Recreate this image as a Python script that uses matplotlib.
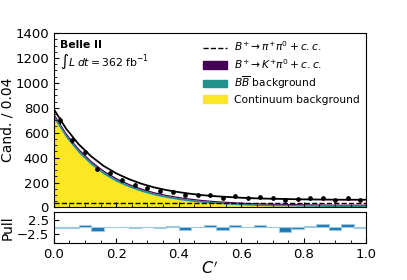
import numpy as np
import matplotlib
matplotlib.use('Agg')
import matplotlib.pyplot as plt
from matplotlib.ticker import AutoMinorLocator, MultipleLocator
from matplotlib.patches import Patch
from matplotlib.lines import Line2D

# bin centres of the C' histogram (width 0.04)
bin_centres = [0.02, 0.06, 0.10, 0.14, 0.18, 0.22, 0.26, 0.30, 0.34, 0.38,
               0.42, 0.46, 0.50, 0.54, 0.58, 0.62, 0.66, 0.70, 0.74, 0.78,
               0.82, 0.86, 0.90, 0.94, 0.98]
counts = [700, 538, 444, 310, 275, 224, 181, 155, 133, 128,
          101, 101, 98, 75, 90, 79, 82, 74, 58, 66,
          74, 79, 58, 74, 58]
pulls = [-0.2, -0.2, 0.9, -1.3, 0.3, 0.2, -0.2, 0.0, -0.2, 0.4,
         -0.9, 0.0, 0.7, -0.9, 0.7, 0.2, 0.7, 0.0, -1.8, -0.4,
         0.4, 1.1, -0.9, 1.1, -0.3]

# fit components read at C' = 0, 0.04, ..., 1.0
curve_x = [0.00, 0.04, 0.08, 0.12, 0.16, 0.20, 0.24, 0.28, 0.32, 0.36,
           0.40, 0.44, 0.48, 0.52, 0.56, 0.60, 0.64, 0.68, 0.72, 0.76,
           0.80, 0.84, 0.88, 0.92, 0.96, 1.00]
continuum = [715, 559, 437, 342, 267, 209, 165, 129, 101, 80,
             63, 50, 40, 32, 27, 21, 17, 14, 13, 12,
             10, 9, 8, 7, 7, 7]
bbbar = [24, 22, 21, 20, 19, 18, 17, 16, 16, 15,
         15, 14, 14, 14, 13, 13, 13, 13, 13, 12,
         12, 12, 12, 12, 12, 12]
kpi0 = [16, 15, 14, 13, 12, 12, 11, 11, 10, 10,
        10, 10, 9, 9, 9, 9, 9, 9, 8, 8,
        8, 8, 8, 8, 8, 8]
pipi0 = [35, 35, 35, 35, 35, 35, 35, 35, 35, 35,
         35, 35, 35, 35, 35, 35, 35, 35, 35, 35,
         35, 35, 35, 35, 35, 35]

c_yellow = '#fde725'
c_teal = '#21918c'
c_purple = '#440154'

fig = plt.figure(figsize=(4.07, 2.80), dpi=100)
ax = fig.add_axes([0.132, 0.259, 0.768, 0.623])
axp = fig.add_axes([0.132, 0.132, 0.768, 0.112])

x = np.array(curve_x)
s1 = np.array(continuum)
s2 = s1 + np.array(bbbar)
s3 = s2 + np.array(kpi0)
total = s3 + np.array(pipi0)

ax.fill_between(x, 0, s1, color=c_yellow, lw=0)
ax.fill_between(x, s1, s2, color=c_teal, lw=0)
ax.fill_between(x, s2, s3, color=c_purple, lw=0)
ax.plot(x, total, color='black', lw=1.3)
ax.plot(x, pipi0, color='black', ls='--', lw=1.0)
ax.errorbar(bin_centres, counts, yerr=np.sqrt(counts), fmt='o', color='black',
            ms=2.4, elinewidth=0.9, capsize=0)

ax.set_xlim(0, 1)
ax.set_ylim(0, 1400)
ax.yaxis.set_major_locator(MultipleLocator(200))
ax.yaxis.set_minor_locator(AutoMinorLocator(4))
ax.xaxis.set_major_locator(MultipleLocator(0.2))
ax.xaxis.set_minor_locator(AutoMinorLocator(4))
ax.tick_params(which='both', direction='in', labelsize=9.5)
ax.tick_params(axis='x', labelbottom=False)
ax.set_ylabel('Cand. / 0.04', fontsize=10)
ax.yaxis.set_label_coords(-0.125, 0.5)

ax.text(0.02, 0.929, 'Belle II', transform=ax.transAxes, fontsize=7.8,
        fontweight='bold', va='center')
ax.text(0.02, 0.836, r'$\int L\;dt = 362$ fb$^{-1}$', transform=ax.transAxes,
        fontsize=7.8, va='center')

handles = [Line2D([0], [0], color='black', ls='--', lw=1.0),
           Patch(color=c_purple), Patch(color=c_teal), Patch(color=c_yellow)]
labels = [r'$B^{+} \rightarrow \pi^{+}\pi^{0} + c.c.$',
          r'$B^{+} \rightarrow K^{+}\pi^{0} + c.c.$',
          r'$B\overline{B}$ background',
          'Continuum background']
ax.legend(handles, labels, loc='upper right', frameon=False, fontsize=7.7,
          handlelength=2.2, handletextpad=0.7, borderaxespad=0.2,
          labelspacing=0.35)

axp.bar(bin_centres, pulls, width=0.04, color='#1f77b4', edgecolor='#9ecae1',
        linewidth=0.8)
axp.set_xlim(0, 1)
axp.set_ylim(-5.5, 5.5)
axp.set_yticks([-2.5, 2.5])
axp.xaxis.set_major_locator(MultipleLocator(0.2))
axp.xaxis.set_minor_locator(AutoMinorLocator(4))
axp.tick_params(which='both', direction='in', labelsize=9.5)
axp.set_ylabel('Pull', fontsize=10)
axp.yaxis.set_label_coords(-0.125, 0.5)
axp.set_xlabel(r'$C^{\prime}$', fontsize=11.5, labelpad=-1)

plt.savefig('out.png', dpi=100)
